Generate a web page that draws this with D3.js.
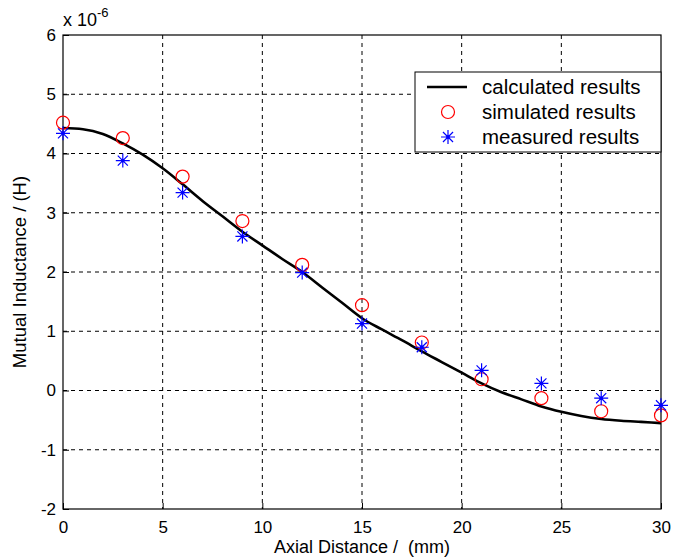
<!DOCTYPE html>
<html>
<head>
<meta charset="utf-8">
<script src="https://cdn.jsdelivr.net/npm/d3@7"></script>
<style>
  body { margin: 0; background: #fff; }
  svg { display: block; font-family: "Liberation Sans", Arial, sans-serif; }
</style>
</head>
<body>
<div id="chart"></div>
<script>
/* DATA */
const calcX = d3.range(0, 31);
const calcY = [4.43, 4.41, 4.33, 4.17, 3.98, 3.75, 3.48, 3.20, 2.94, 2.68, 2.45,
               2.22, 2.00, 1.74, 1.48, 1.22, 1.03, 0.85, 0.66, 0.48, 0.30,
               0.12, -0.03, -0.15, -0.27, -0.36, -0.43, -0.48, -0.51, -0.53, -0.55];
const sampleX = [0, 3, 6, 9, 12, 15, 18, 21, 24, 27, 30];
const simulatedY = [4.52, 4.26, 3.61, 2.86, 2.12, 1.44, 0.81, 0.19, -0.13, -0.35, -0.42];
const measuredY = [4.34, 3.88, 3.34, 2.60, 1.99, 1.13, 0.73, 0.34, 0.12, -0.13, -0.25];
const xTicks = [0, 5, 10, 15, 20, 25, 30];
const yTicks = [-2, -1, 0, 1, 2, 3, 4, 5, 6];
const legendLabels = ["calculated results", "simulated results", "measured results"];

/* LAYOUT */
const width = 685, height = 559;
const margin = { top: 35, right: 24, bottom: 50, left: 63 };

const svg = d3.select("#chart").append("svg")
  .attr("width", width)
  .attr("height", height);

const xScale = d3.scaleLinear().domain([0, 30]).range([margin.left, width - margin.right]);
const yScale = d3.scaleLinear().domain([-2, 6]).range([height - margin.bottom, margin.top]);

const x0 = xScale(0), x1 = xScale(30), y0 = yScale(-2), y1 = yScale(6);

// grid
svg.append("g").selectAll("line.gx")
  .data(xTicks.slice(1, -1))
  .join("line")
  .attr("x1", d => xScale(d)).attr("x2", d => xScale(d))
  .attr("y1", y1).attr("y2", y0)
  .attr("stroke", "#000").attr("stroke-width", 1)
  .attr("stroke-dasharray", "4,4");

svg.append("g").selectAll("line.gy")
  .data(yTicks.slice(1, -1))
  .join("line")
  .attr("x1", x0).attr("x2", x1)
  .attr("y1", d => yScale(d)).attr("y2", d => yScale(d))
  .attr("stroke", "#000").attr("stroke-width", 1)
  .attr("stroke-dasharray", "4,4");

// axes (plain hyphen for negatives, like the original)
const xAxis = d3.axisBottom(xScale).tickValues(xTicks).tickFormat(d => String(d))
  .tickSizeInner(-6).tickSizeOuter(0).tickPadding(12);
const yAxis = d3.axisLeft(yScale).tickValues(yTicks).tickFormat(d => String(d))
  .tickSizeInner(-6).tickSizeOuter(0).tickPadding(7);

svg.append("g")
  .attr("transform", `translate(0, ${y0})`)
  .call(xAxis)
  .call(g => g.select(".domain").remove())
  .call(g => g.selectAll("text").style("font-size", "17px").attr("fill", "#000"));

svg.append("g")
  .attr("transform", `translate(${x0}, 0)`)
  .call(yAxis)
  .call(g => g.select(".domain").remove())
  .call(g => g.selectAll("text").style("font-size", "17px").attr("fill", "#000"));

// box
svg.append("rect")
  .attr("x", x0).attr("y", y1)
  .attr("width", x1 - x0).attr("height", y0 - y1)
  .attr("fill", "none").attr("stroke", "#000").attr("stroke-width", 1.2);

// exponent
const expo = svg.append("text")
  .attr("x", x0).attr("y", 26)
  .style("font-size", "18px");
expo.append("tspan").text("x 10");
expo.append("tspan").attr("dy", -9).style("font-size", "13px").text("-6");

// axis titles
svg.append("text")
  .attr("x", (x0 + x1) / 2).attr("y", 553)
  .attr("text-anchor", "middle")
  .style("font-size", "18px")
  .style("white-space", "pre")
  .text("Axial Distance /  (mm)");

svg.append("text")
  .attr("transform", `translate(26, ${(y0 + y1) / 2}) rotate(-90)`)
  .attr("text-anchor", "middle")
  .style("font-size", "18.5px")
  .text("Mutual Inductance / (H)");

// calculated curve
const line = d3.line()
  .x((d, i) => xScale(calcX[i]))
  .y(d => yScale(d))
  .curve(d3.curveMonotoneX);

svg.append("path")
  .datum(calcY)
  .attr("d", line)
  .attr("fill", "none")
  .attr("stroke", "#000")
  .attr("stroke-width", 2.6);

// simulated circles
svg.append("g").selectAll("circle")
  .data(simulatedY)
  .join("circle")
  .attr("cx", (d, i) => xScale(sampleX[i]))
  .attr("cy", d => yScale(d))
  .attr("r", 6.5)
  .attr("fill", "none")
  .attr("stroke", "#f00")
  .attr("stroke-width", 1.2);

// measured stars
const starPath = s => {
  const d = s * 0.72;
  return `M${-s},0H${s}M0,${-s}V${s}M${-d},${-d}L${d},${d}M${-d},${d}L${d},${-d}`;
};
const stars = svg.append("g").selectAll("g")
  .data(measuredY)
  .join("g")
  .attr("transform", (d, i) => `translate(${xScale(sampleX[i])}, ${yScale(d)})`);
stars.append("path")
  .attr("d", starPath(7))
  .attr("stroke", "#00f")
  .attr("stroke-width", 1.2)
  .attr("fill", "none");
stars.append("circle").attr("r", 1.8).attr("fill", "#00f");

// legend
const lg = svg.append("g");
lg.append("rect")
  .attr("x", 415).attr("y", 72)
  .attr("width", x1 - 415).attr("height", 80)
  .attr("fill", "#fff").attr("stroke", "#000").attr("stroke-width", 1);

const rowY = [87, 112, 137];
lg.append("line")
  .attr("x1", 427).attr("x2", 467)
  .attr("y1", rowY[0]).attr("y2", rowY[0])
  .attr("stroke", "#000").attr("stroke-width", 2.6);
lg.append("circle")
  .attr("cx", 448).attr("cy", rowY[1]).attr("r", 6.5)
  .attr("fill", "none").attr("stroke", "#f00").attr("stroke-width", 1.2);
lg.append("path")
  .attr("transform", `translate(448, ${rowY[2]})`)
  .attr("d", starPath(7))
  .attr("stroke", "#00f").attr("stroke-width", 1.2);
lg.append("circle")
  .attr("cx", 448).attr("cy", rowY[2]).attr("r", 1.8).attr("fill", "#00f");

lg.selectAll("text.leg")
  .data(legendLabels)
  .join("text")
  .attr("class", "leg")
  .attr("x", 482)
  .attr("y", (d, i) => rowY[i])
  .attr("dy", "0.35em")
  .style("font-size", "20.5px")
  .text(d => d);
</script>
</body>
</html>
